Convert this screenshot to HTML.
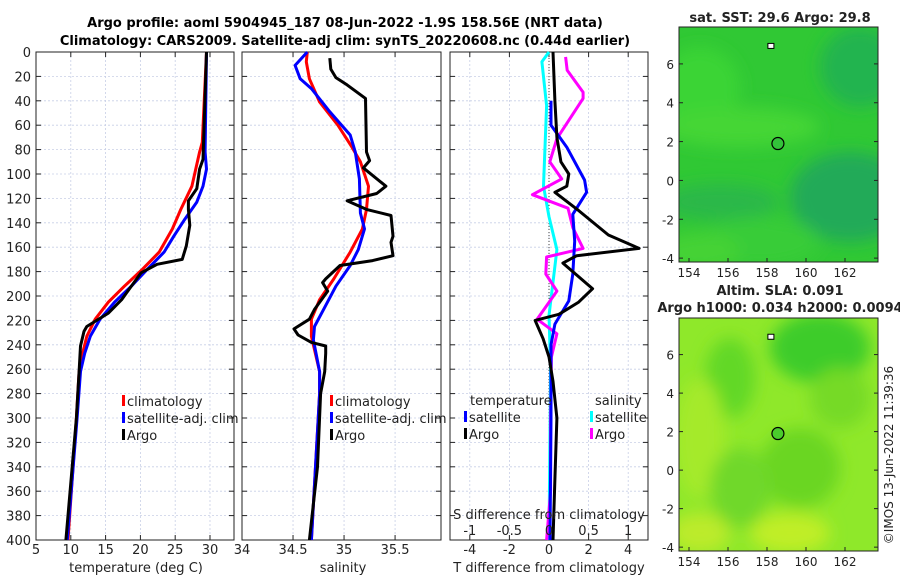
<!DOCTYPE html>
<html><head><meta charset="utf-8"><style>
body{margin:0;background:#fff;}
svg{display:block;font-family:"DejaVu Sans","Liberation Sans",sans-serif;}
</style></head><body>
<svg id="fig" width="900" height="580" viewBox="0 0 900 580">
<defs>
<filter id="blur" x="-50%" y="-50%" width="200%" height="200%"><feGaussianBlur stdDeviation="8"/></filter>
<clipPath id="c1"><rect x="679" y="27" width="199" height="235"/></clipPath>
<clipPath id="c2"><rect x="679" y="318" width="199" height="233"/></clipPath>
</defs>
<text x="345" y="27" text-anchor="middle" font-size="13" font-weight="bold">Argo profile: aoml 5904945_187 08-Jun-2022 -1.9S 158.56E (NRT data)</text>
<text x="345" y="45" text-anchor="middle" font-size="13" font-weight="bold">Climatology: CARS2009. Satellite-adj clim: synTS_20220608.nc (0.44d earlier)</text>
<g id="maps"></g>
<g id="plots"></g>
<text transform="translate(893,455) rotate(-90)" text-anchor="middle" font-size="12" fill="#222">©IMOS 13-Jun-2022 11:39:36</text>
</svg>
<script>
// ---- data ----
const depthTicks = [0,20,40,60,80,100,120,140,160,180,200,220,240,260,280,300,320,340,360,380,400];
const tempTicks = [5,10,15,20,25,30];
const salTicks = [34,34.5,35,35.5];
const tdiffTicks = [-4,-2,0,2,4];
const sdiffTicks = [-1,-0.5,0,0.5,1];
const tClimDepth = [0,74,82,110,129,145,164,178,192,205,219,233,247,262,300,350,400];
const tClimVal   = [29.5,28.9,28.5,27.4,25.8,24.6,22.7,20.3,17.7,15.4,13.5,12.3,11.7,11.2,10.8,10.2,9.6];
const tSatDepth = [0,82,96,110,123,137,151,164,178,192,205,219,233,247,262,300,350,400];
const tSatVal   = [29.5,29.3,29.5,29.0,28.1,26.4,24.8,23.4,21.0,18.7,16.3,14.2,12.8,12.0,11.4,10.9,10.2,9.5];
const tArgoDepth = [0,88,96,112,122,129,142,159,170,174,181,192,203,214,225,229,241,262,280,300,340,400];
const tArgoVal   = [29.5,29.0,28.5,28.1,26.9,26.9,27.1,26.6,26.0,22.4,20.1,18.7,17.3,15.4,12.3,11.9,11.4,11.2,11.0,10.8,10.2,9.3];
const sClimDepth = [0,8,22,41,60,77,90,110,129,145,164,186,203,219,233,262,280,400];
const sClimVal   = [34.64,34.63,34.66,34.76,34.94,35.07,35.16,35.24,35.22,35.18,35.06,34.90,34.76,34.68,34.68,34.76,34.76,34.68];
const sSatDepth = [0,11,22,30,49,68,82,104,132,145,162,175,192,211,225,236,262,280,400];
const sSatVal   = [34.64,34.52,34.57,34.68,34.86,35.06,35.11,35.15,35.16,35.20,35.14,35.06,34.92,34.80,34.71,34.70,34.76,34.76,34.68];
const sArgoDepth = [5,14,21,27,38,82,89,95,110,116,122,129,134,151,156,167,171,175,186,189,196,211,219,227,232,238,241,247,262,280,340,400];
const sArgoVal   = [34.86,34.87,34.92,35.03,35.21,35.22,35.25,35.19,35.41,35.32,35.03,35.22,35.46,35.48,35.46,35.48,35.28,34.96,34.82,34.79,34.84,34.71,34.66,34.51,34.55,34.68,34.82,34.82,34.81,34.77,34.74,34.66];
const dTArgoDepth = [0,40,70,90,100,110,115,130,150,161,167,173,194,205,215,220,235,250,270,300,350,400];
const dTArgoVal   = [0.2,0.3,0.4,0.6,1.0,0.9,0.3,1.5,3.0,4.55,1.4,0.7,2.2,1.5,0.5,-0.7,-0.3,0,0.2,0.4,0.3,0.2];
const dTSatDepth = [40,60,78,105,115,133,155,182,204,223,240,300,400];
const dTSatVal   = [0.1,0.1,0.9,1.8,1.9,1.2,1.3,1.2,1.0,0.3,0.1,0.1,0.05];
const dSSatDepth = [0,8,44,110,135,162,216,260,330,400];
const dSSatVal   = [0.0,-0.09,-0.03,-0.07,0.0,0.1,0.0,0.02,0.01,0.0];
const dSArgoDepth = [4,15,33,38,71,90,104,117,128,144,161,168,182,196,219,231,250,300,360,400];
const dSArgoVal   = [0.21,0.23,0.43,0.43,0.1,0.01,0.16,-0.21,0.24,0.3,0.43,-0.03,-0.04,0.1,-0.15,0.1,0.03,0.02,0.02,-0.03];
const lonTicks = [154,156,158,160,162];
const latTicks = [-4,-2,0,2,4,6];

const NS='http://www.w3.org/2000/svg';
function mk(tag,attrs,parent){const e=document.createElementNS(NS,tag);for(const k in attrs)e.setAttribute(k,attrs[k]);parent.appendChild(e);return e;}
const plots=document.getElementById('plots');
const Y0=52,Y1=540;
const yD=d=>Y0+(d/400)*(Y1-Y0);

function panel(name,x0,x1,dmin,dmax,ticks,showY){
  const g=mk('g',{},plots);
  
  
  const sx=v=>x0+(v-dmin)/(dmax-dmin)*(x1-x0);
  ticks.forEach(t=>{const l=mk('line',{x1:sx(t),x2:sx(t),y1:Y0,y2:Y1,stroke:'#c8cfe6','stroke-width':0.8,'stroke-dasharray':'2,2'},g);
    
    });
  depthTicks.forEach(d=>{const l=mk('line',{x1:x0,x2:x1,y1:yD(d),y2:yD(d),stroke:'#c8cfe6','stroke-width':0.8,'stroke-dasharray':'2,2'},g);
    
    
    mk('line',{x1:x0,x2:x0+5,y1:yD(d),y2:yD(d),stroke:'#222'},g);
    mk('line',{x1:x1-5,x2:x1,y1:yD(d),y2:yD(d),stroke:'#222'},g);
    if(showY){const t=mk('text',{x:x0-5,y:yD(d)+5,'text-anchor':'end','font-size':13,fill:'#222'},g);t.textContent=d;
      
      }
  });
  ticks.forEach(t=>{mk('line',{x1:sx(t),x2:sx(t),y1:Y0,y2:Y0+5,stroke:'#222'},g);mk('line',{x1:sx(t),x2:sx(t),y1:Y1-5,y2:Y1,stroke:'#222'},g);});
  const r=mk('rect',{x:x0,y:Y0,width:x1-x0,height:Y1-Y0,fill:'none',stroke:'#222','stroke-width':1},g);
  
  
  return {g,sx};
}
function line(p,xs,ds,color,name){
  const pts=xs.map((v,i)=>p.sx(v).toFixed(1)+','+yD(ds[i]).toFixed(1)).join(' ');
  const l=mk('polyline',{points:pts,fill:'none',stroke:color,'stroke-width':3,'stroke-linejoin':'round'},p.g);
  
  
}
function txt(g,x,y,s,opts,name){const t=mk('text',Object.assign({x:x,y:y,'font-size':13,fill:'#222'},opts||{}),g);t.textContent=s;
  
  return t;}
function xticks(p,ticks,y){ticks.forEach(t=>{txt(p.g,p.sx(t),y,String(t),{'text-anchor':'middle'},'x-tick-label');});}
function legItem(g,x,y,color,label){
  const m=mk('rect',{x:x,y:y-11,width:3,height:11,fill:color},g);
  
  
  txt(g,x+5,y,label,{},'legend-entry');
}

// panel 1 temperature
const p1=panel('temperature-panel',36,234,5,33.45,tempTicks,true);
line(p1,tClimVal,tClimDepth,'#f00','temp-climatology-line');
line(p1,tSatVal,tSatDepth,'#00f','temp-satellite-line');
line(p1,tArgoVal,tArgoDepth,'#000','temp-argo-line');
xticks(p1,tempTicks,554);
txt(p1.g,136,572,'temperature (deg C)',{'text-anchor':'middle'},'x-axis-title');
legItem(p1.g,122,406,'#f00','climatology');
legItem(p1.g,122,423,'#00f','satellite-adj. clim');
legItem(p1.g,122,440,'#000','Argo');

// panel 2 salinity
const p2=panel('salinity-panel',242,441,34,35.95,salTicks,false);
line(p2,sClimVal,sClimDepth,'#f00','sal-climatology-line');
line(p2,sSatVal,sSatDepth,'#00f','sal-satellite-line');
line(p2,sArgoVal,sArgoDepth,'#000','sal-argo-line');
xticks(p2,salTicks,554);
txt(p2.g,343,572,'salinity',{'text-anchor':'middle'},'x-axis-title');
legItem(p2.g,330,406,'#f00','climatology');
legItem(p2.g,330,423,'#00f','satellite-adj. clim');
legItem(p2.g,330,440,'#000','Argo');

// panel 3 differences
const p3=panel('difference-panel',450,648,-5,5,tdiffTicks,false);
const ps={g:p3.g,sx:v=>p3.sx(v*4)};
const zl=mk('line',{x1:p3.sx(0),x2:p3.sx(0),y1:Y0,y2:Y1,stroke:'#444','stroke-dasharray':'1,2'},p3.g);


line(ps,dSSatVal,dSSatDepth,'#0ff','sdiff-satellite-line');
line(ps,dSArgoVal,dSArgoDepth,'#f0f','sdiff-argo-line');
line(p3,dTSatVal,dTSatDepth,'#00f','tdiff-satellite-line');
line(p3,dTArgoVal,dTArgoDepth,'#000','tdiff-argo-line');
xticks(p3,tdiffTicks,554);
sdiffTicks.forEach(t=>txt(p3.g,ps.sx(t),535,String(t),{'text-anchor':'middle'},'s-tick-label'));
txt(p3.g,549,519,'S difference from climatology',{'text-anchor':'middle'},'s-axis-title');
txt(p3.g,549,572,'T difference from climatology',{'text-anchor':'middle'},'x-axis-title');
txt(p3.g,470,405,'temperature',{},'legend-heading');
txt(p3.g,595,405,'salinity',{},'legend-heading');
legItem(p3.g,464,422,'#00f','satellite');
legItem(p3.g,464,439,'#000','Argo');
legItem(p3.g,590,422,'#0ff','satellite');
legItem(p3.g,590,439,'#f0f','Argo');

// maps
const maps=document.getElementById('maps');
function map(name,top,bot,title1,title2,base,blobs,circFill){
  const g=mk('g',{},maps);
  
  
  const x0=679,x1=878;
  const lx=v=>689+(v-154)*19.5;
  const ly=v=>top+((7.9-v)/(7.9+4.2))*(bot-top);
  const cg=mk('g',{'clip-path':'url(#'+(name==='sst-map'?'c1':'c2')+')'},g);
  mk('rect',{x:x0,y:top,width:x1-x0,height:bot-top,fill:base},cg);
  const bg=mk('g',{filter:'url(#blur)'},cg);
  blobs.forEach(b=>mk('ellipse',{cx:b[0],cy:top+b[1],rx:b[2],ry:b[3],fill:b[4]},bg));
  const c=mk('circle',{cx:lx(158.56),cy:ly(1.9),r:6,fill:circFill,stroke:'#000','stroke-width':1.2},g);
  
  
  mk('rect',{x:lx(158.2)-3,y:ly(6.9)-3,width:6,height:5,fill:'#fff',stroke:'#000','stroke-width':1},g);
  mk('rect',{x:x0,y:top,width:x1-x0,height:bot-top,fill:'none',stroke:'#222'},g);
  latTicks.forEach(v=>{mk('line',{x1:x0,x2:x0+4,y1:ly(v),y2:ly(v),stroke:'#222'},g);mk('line',{x1:x1-4,x2:x1,y1:ly(v),y2:ly(v),stroke:'#222'},g);
    txt(g,x0-5,ly(v)+5,String(v),{'text-anchor':'end','font-size':12},'lat-tick-label');});
  lonTicks.forEach(v=>{mk('line',{x1:lx(v),x2:lx(v),y1:bot-4,y2:bot,stroke:'#222'},g);
    txt(g,lx(v),bot+15,String(v),{'text-anchor':'middle','font-size':12},'lon-tick-label');});
  if(title2){txt(g,780,top-23,title1,{'text-anchor':'middle','font-weight':'bold','font-size':13},'map-title');
    txt(g,780,top-6,title2,{'text-anchor':'middle','font-weight':'bold','font-size':13},'map-title');}
  else txt(g,780,top-5,title1,{'text-anchor':'middle','font-weight':'bold','font-size':13},'map-title');
}
map('sst-map',27,262,'sat. SST: 29.6 Argo: 29.8',null,'#30c834',
  [[700,60,40,40,'#3ad436'],[740,100,80,20,'#44d634'],[860,40,40,40,'#22b450'],[850,170,60,45,'#22aa58'],[720,175,60,18,'#2cb84a'],[760,215,60,25,'#38cc38'],[700,225,40,20,'#44d236']],'#33c33a');
map('sla-map',318,551,'Altim. SLA: 0.091','Argo h1000: 0.034 h2000: 0.0094','#8fe82a',
  [[820,30,50,35,'#3dcc2c'],[730,60,25,40,'#62d826'],[700,120,25,60,'#a5ea2a'],[800,150,40,40,'#6ad624'],[740,170,30,40,'#70d82a'],[790,215,40,20,'#c0ee26'],[700,215,30,20,'#bceb2a'],[840,80,30,30,'#76da26']],'#4acc2c');
</script>
</body></html>
